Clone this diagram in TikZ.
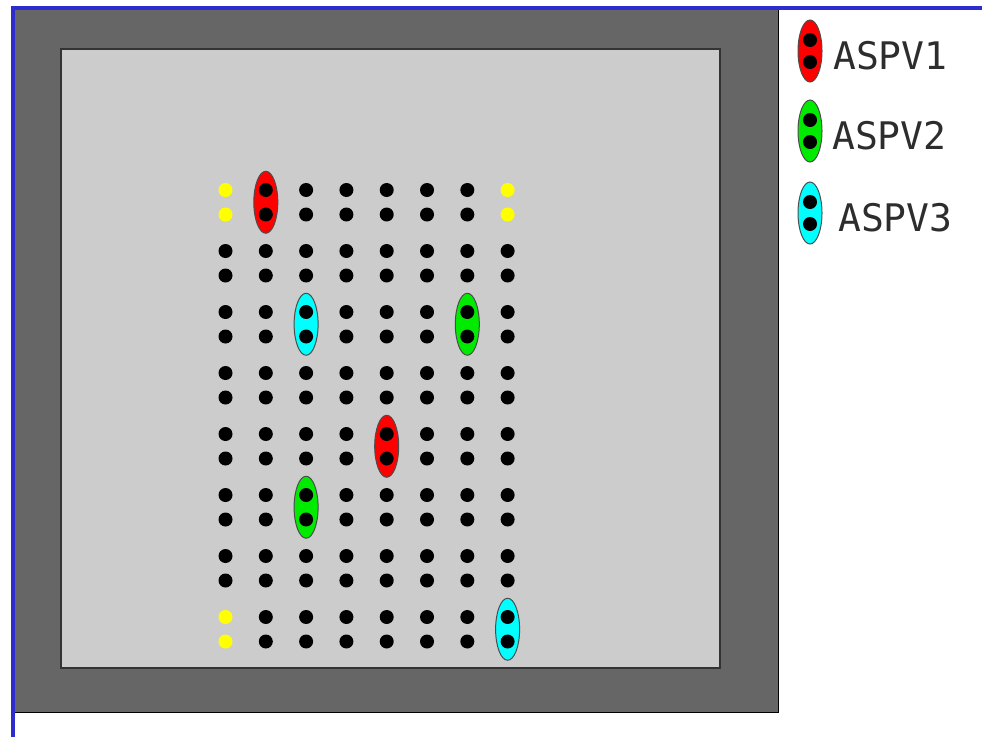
\documentclass[tikz,border=0pt]{standalone}
\usepackage{fontspec}
\usepackage{xcolor}
\usepackage{tikz}
\usetikzlibrary{shapes.geometric, positioning}
\newfontfamily\legendfont{DejaVu Sans Mono}
\definecolor{edgeblue}{RGB}{45, 45, 205}
\definecolor{framegray}{RGB}{102, 102, 102}
\definecolor{boardgray}{RGB}{204, 204, 204}
\definecolor{aspvred}{RGB}{255, 0, 0}
\definecolor{aspvgreen}{RGB}{0, 235, 0}
\definecolor{aspvcyan}{RGB}{0, 255, 255}
\definecolor{spareyellow}{RGB}{255, 255, 0}
\definecolor{labelgray}{RGB}{45, 45, 45}

\begin{document}
\begin{tikzpicture}[x=1pt, y=-1pt,
    hole/.style={circle, fill=black, inner sep=0pt, minimum size=14pt},
    aspv/.style={ellipse, draw=black!70, line width=1pt, inner sep=0pt,
                 minimum width=24pt, minimum height=62pt},
    legendtext/.style={anchor=west, inner sep=0pt, text=labelgray,
                       font=\legendfont\fontsize{38}{40}\selectfont}]
  \useasboundingbox (0,0) rectangle (982,737);

  % frame and board
  \draw[fill=framegray, draw=black, line width=1pt] (14,9) rectangle (778,712);
  \draw[fill=boardgray, draw=black!80, line width=1.2pt] (61,49) rectangle (720,668);
  \draw[edgeblue, line width=3.5pt] (13,737) -- (13,8) -- (982,8);

  % valves behind the holes
  \foreach \c/\r/\col [count=\k] in {1/0/aspvred, 2/2/aspvcyan, 6/2/aspvgreen,
                                     4/4/aspvred, 2/5/aspvgreen, 7/7/aspvcyan}
    \node[aspv, fill=\col] (v\k) at ({225.5+40.3*\c}, {202.25+61*\r}) {};

  % hole pairs
  \foreach \r in {0,...,7}
    \foreach \c in {0,...,7} {
      \pgfmathtruncatemacro\spare{((\c==0 && \r==0) || (\c==7 && \r==0) || (\c==0 && \r==7)) ? 1 : 0}
      \ifnum\spare=1 \def\holecol{spareyellow}\else\def\holecol{black}\fi
      \node[hole, fill=\holecol] (h-\c-\r-a) at ({225.5+40.3*\c}, {190+61*\r}) {};
      \node[hole, fill=\holecol] (h-\c-\r-b) at ({225.5+40.3*\c}, {214.5+61*\r}) {};
    }

  % legend
  \foreach \name/\col/\y/\tx [count=\k] in {ASPV1/aspvred/51/833, ASPV2/aspvgreen/131/832,
                                            ASPV3/aspvcyan/213/838} {
    \node[aspv, fill=\col] (key\k) at (810,\y) {};
    \node[hole] (key\k-a) at (810,\y-11) {};
    \node[hole] (key\k-b) at (810,\y+11) {};
    \node[legendtext] (label\k) at (\tx,\y+5) {\name};
  }
\end{tikzpicture}
\end{document}
